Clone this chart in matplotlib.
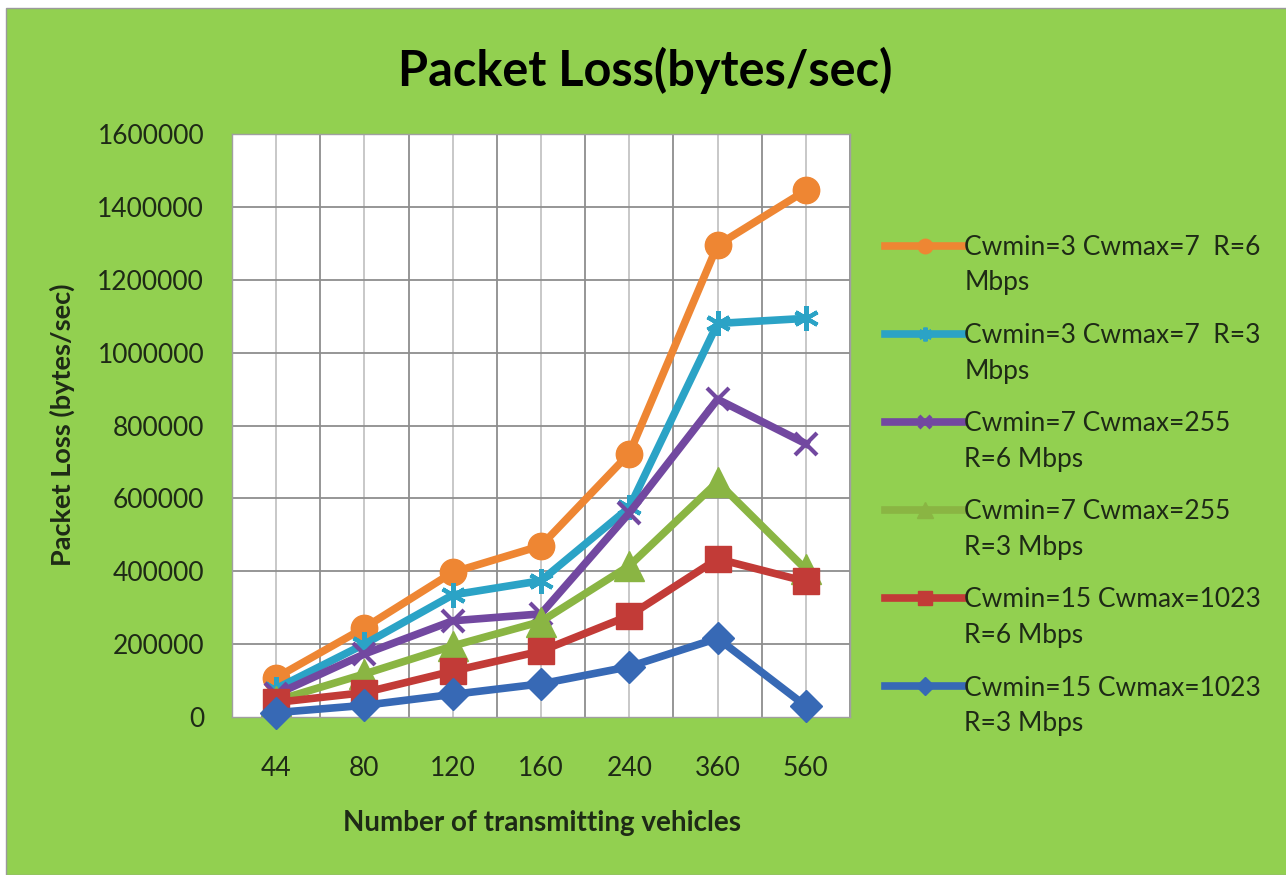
import numpy as np
import matplotlib.pyplot as plt
from matplotlib.patches import Rectangle
from matplotlib.legend_handler import HandlerLine2D
from matplotlib.transforms import Affine2D

plt.rcParams['font.family'] = ['Lato', 'DejaVu Sans']

vehicles = ['44', '80', '120', '160', '240', '360', '560']

cw3_r6 = [108000, 245000, 397000, 470000, 723000, 1295000, 1445000]
cw3_r3 = [78000, 200000, 335000, 374000, 575000, 1080000, 1094000]
cw7_r6 = [62000, 173000, 264000, 283000, 560000, 872000, 750000]
cw7_r3 = [45000, 118000, 195000, 262000, 415000, 645000, 405000]
cw15_r6 = [40000, 67000, 126000, 181000, 278000, 434000, 372000]
cw15_r3 = [12000, 32000, 62000, 91000, 138000, 216000, 30000]

labels = ['Cwmin=3 Cwmax=7  R=6\nMbps',
          'Cwmin=3 Cwmax=7  R=3\nMbps',
          'Cwmin=7 Cwmax=255\nR=6 Mbps',
          'Cwmin=7 Cwmax=255\nR=3 Mbps',
          'Cwmin=15 Cwmax=1023\nR=6 Mbps',
          'Cwmin=15 Cwmax=1023\nR=3 Mbps']

series = [cw3_r6, cw3_r3, cw7_r6, cw7_r3, cw15_r6, cw15_r3]
colors = ['#EE8633', '#2BA3C6', '#7248A0', '#8AB543', '#C23B37', '#3769B5']
markers = ['o', (6, 2, 0), 'x', '^', 's', 'D']
msizes = [19, 18, 16, 21, 19, 16]

GREEN = '#92D050'
TXT = '#1e2a16'


class FirstLineHandler(HandlerLine2D):
    # put the legend line beside the first text line, like Excel does
    def create_artists(self, legend, orig_handle, xdescent, ydescent, width, height, fontsize, trans):
        arts = super().create_artists(legend, orig_handle, xdescent, ydescent, width, height,
                                      fontsize, trans)
        for a in arts:
            a.set_transform(Affine2D().translate(0, 14.5) + trans)
        return arts


fig = plt.figure(figsize=(12.86, 8.75), dpi=100)
fig.patch.set_facecolor('white')
fig.patches.append(Rectangle((6 / 1286, 0), 1, 1 - 8 / 875, transform=fig.transFigure,
                             facecolor=GREEN, edgecolor='#9a9a9a', linewidth=1.0, zorder=-10))

ax = fig.add_axes([232 / 1286, 1 - 717 / 875, (850 - 232) / 1286, (717 - 134) / 875])
ax.set_facecolor('white')

x = np.arange(len(vehicles))
for vals, c, m, ms, lab in zip(series, colors, markers, msizes, labels):
    mew = 3 if m in ('x',) or isinstance(m, tuple) else 1
    ax.plot(x, vals, color=c, linewidth=5.5, marker=m, markersize=ms,
            markeredgecolor=c, markeredgewidth=mew, label=lab, zorder=3, clip_on=False)

ax.set_xlim(-0.5, len(vehicles) - 0.5)
ax.set_ylim(0, 1600000)
ax.set_yticks(np.arange(0, 1600001, 200000))
ax.ticklabel_format(axis='y', style='plain', useOffset=False)
ax.set_xticks(x)
ax.set_xticklabels(vehicles)
ax.tick_params(axis='both', length=0, labelsize=19, colors=TXT)
ax.tick_params(axis='y', pad=20)
ax.tick_params(axis='x', pad=28)

# grid: category centres light, boundaries and values darker
for xi in x:
    ax.axvline(xi, color='#c4c4c4', linewidth=1.3, zorder=1)
for xb in np.arange(-0.5, len(vehicles), 1.0)[1:]:
    ax.axvline(xb, color='#8e8e8e', linewidth=1.3, zorder=1)
for yv in np.arange(200000, 1600001, 200000):
    ax.axhline(yv, color='#8e8e8e', linewidth=1.3, zorder=1)
for s in ax.spines.values():
    s.set_color('#a0a0a0')
    s.set_linewidth(1.0)

fig.text(645 / 1286, 1 - 70 / 875, 'Packet Loss(bytes/sec)', ha='center', va='center',
         fontsize=35, fontweight='bold', color='black')
fig.text(62 / 1286, 1 - 425 / 875, 'Packet Loss (bytes/sec)', ha='center', va='center',
         rotation=90, fontsize=19.5, fontweight='bold', color=TXT)
fig.text(542 / 1286, 1 - 823 / 875, 'Number of transmitting vehicles', ha='center', va='center',
         fontsize=20, fontweight='bold', color=TXT)

leg = fig.legend(loc='upper left', bbox_to_anchor=(885 / 1286, 1 - 235 / 875),
                 frameon=False, fontsize=19, handlelength=3.0, handletextpad=0.0,
                 labelspacing=1.05, borderpad=0, borderaxespad=0, markerscale=0.55,
                 handler_map={plt.Line2D: FirstLineHandler()})
for t in leg.get_texts():
    t.set_color(TXT)
    t.set_linespacing(1.52)

fig.savefig('out.png', dpi=100, facecolor=fig.get_facecolor())
